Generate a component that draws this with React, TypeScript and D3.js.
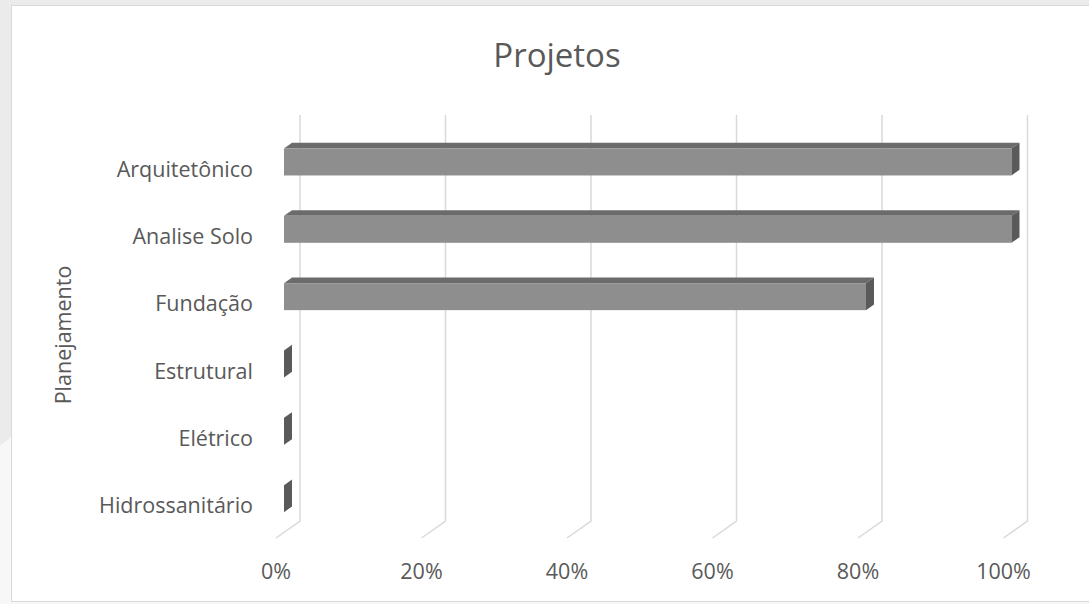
import { scaleBand, scaleLinear } from "d3";

// chart data
const categories = [
  "Arquitetônico",
  "Analise Solo",
  "Fundação",
  "Estrutural",
  "Elétrico",
  "Hidrossanitário",
];
const values = [1.0, 1.0, 0.8, 0, 0, 0];
const ticks = [0, 0.2, 0.4, 0.6, 0.8, 1.0];
const title = "Projetos";
const axisTitle = "Planejamento";

const W = 1089;
const H = 604;
const FONT = "'Open Sans', sans-serif";
const TEXT = "#595959";

// depth vector from back wall to front of floor
const DX = -24;
const DY = 17;

export default function App() {
  // back wall scales
  const x = scaleLinear().domain([0, 1]).range([300, 1027.5]);
  const y = scaleBand<string>()
    .domain(categories)
    .range([117, 521])
    .paddingInner(0.6)
    .paddingOuter(0.3);
  const wallTop = 115;
  const wallBottom = 521;

  // bar sits between 1/3 and 2/3 of the depth
  const fx = (DX * 2) / 3;
  const fy = (DY * 2) / 3;
  const bx = DX / 3;
  const by = DY / 3;

  return (
    <svg
      width={W}
      height={H}
      style={{ position: "absolute", left: 0, top: 0 }}
      fontFamily={FONT}
    >
      {/* slide background around the chart */}
      <rect x={0} y={0} width={W} height={H} fill="#f7f7f7" />
      <polygon points={`0,0 ${W},0 ${W},6 12,6 12,436 0,446`} fill="#ebebeb" />
      <rect x={11.5} y={5.5} width={W} height={596} fill="#fff" stroke="#d9d9d9" />

      <text
        x={557}
        y={54}
        textAnchor="middle"
        dominantBaseline="central"
        fontSize={33}
        fill={TEXT}
      >
        {title}
      </text>

      {/* gridlines: back wall + floor */}
      {ticks.map((t) => (
        <polyline
          key={t}
          points={`${x(t)},${wallTop} ${x(t)},${wallBottom} ${x(t) + DX},${wallBottom + DY}`}
          fill="none"
          stroke="#d9d9d9"
          strokeWidth={1.5}
        />
      ))}

      {/* bars */}
      {categories.map((c, i) => {
        const y0 = y(c)!;
        const y1 = y0 + y.bandwidth();
        const x0 = x(0);
        const x1 = x(values[i]);
        return (
          <g key={c}>
            {/* top face */}
            <polygon
              points={`${x0 + fx},${y0 + fy} ${x1 + fx},${y0 + fy} ${x1 + bx},${y0 + by} ${x0 + bx},${y0 + by}`}
              fill="#6b6b6b"
            />
            {/* front face */}
            <rect
              x={x0 + fx}
              y={y0 + fy}
              width={x1 - x0}
              height={y1 - y0}
              fill="#8e8e8e"
            />
            {/* end face */}
            <polygon
              points={`${x1 + fx},${y0 + fy} ${x1 + bx},${y0 + by} ${x1 + bx},${y1 + by} ${x1 + fx},${y1 + fy}`}
              fill="#5a5a5a"
            />
          </g>
        );
      })}

      {/* category labels */}
      {categories.map((c) => (
        <text
          key={c}
          x={253}
          y={y(c)! + y.bandwidth() / 2 + fy + 6}
          textAnchor="end"
          dominantBaseline="central"
          fontSize={21.5}
          fill={TEXT}
        >
          {c}
        </text>
      ))}

      {/* value tick labels */}
      {ticks.map((t) => (
        <text
          key={t}
          x={x(t) + DX}
          y={570}
          textAnchor="middle"
          dominantBaseline="central"
          fontSize={21.5}
          fill={TEXT}
        >
          {`${Math.round(t * 100)}%`}
        </text>
      ))}

      <text
        transform={`translate(62,335) rotate(-90)`}
        textAnchor="middle"
        dominantBaseline="central"
        fontSize={21.5}
        fill={TEXT}
      >
        {axisTitle}
      </text>
    </svg>
  );
}
